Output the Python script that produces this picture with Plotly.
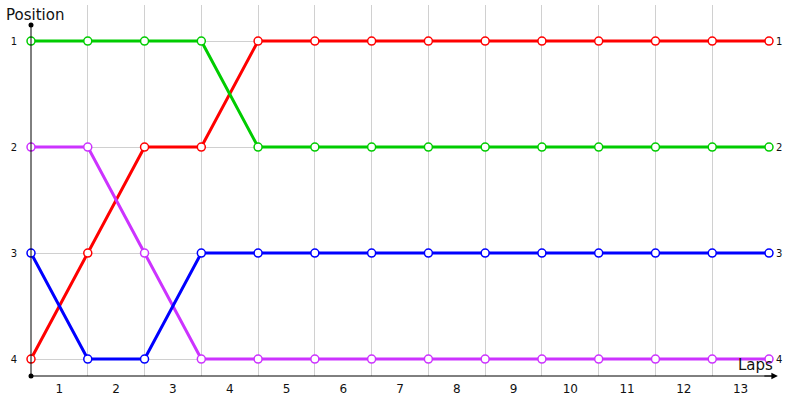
import plotly.graph_objects as go

laps = list(range(0, 14))
lap_labels = [str(i) for i in range(1, 14)]
lap_label_pos = [i + 0.5 for i in range(13)]
positions = [1, 2, 3, 4]

red = [4, 3, 2, 2, 1, 1, 1, 1, 1, 1, 1, 1, 1, 1]
green = [1, 1, 1, 1, 2, 2, 2, 2, 2, 2, 2, 2, 2, 2]
magenta = [2, 2, 3, 4, 4, 4, 4, 4, 4, 4, 4, 4, 4, 4]
blue = [3, 4, 4, 3, 3, 3, 3, 3, 3, 3, 3, 3, 3, 3]

series = [
    ("Red", red, "#ff0000"),
    ("Green", green, "#00cc00"),
    ("Magenta", magenta, "#cc33ff"),
    ("Blue", blue, "#0000ff"),
]

fig = go.Figure()
for name, vals, col in series:
    fig.add_trace(go.Scatter(
        x=laps, y=vals, name=name, mode="lines+markers",
        line=dict(color=col, width=3),
        marker=dict(symbol="circle", size=8, color="white",
                    line=dict(color=col, width=1.5)),
        cliponaxis=False,
    ))

# invisible trace so the right-hand axis gets drawn
fig.add_trace(go.Scatter(x=laps, y=red, yaxis="y2", mode="lines",
                         line=dict(width=0), hoverinfo="skip", showlegend=False))

yr = [4.16, 0.66]
fig.update_layout(
    width=800, height=400,
    margin=dict(l=31, r=31, t=5, b=24),
    plot_bgcolor="white", paper_bgcolor="white",
    showlegend=False,
    font=dict(family="DejaVu Sans", color="#111"),
    xaxis=dict(
        range=[0, 13], tickvals=lap_label_pos, ticktext=lap_labels,
        showgrid=False, zeroline=False, showline=False, ticks="",
        tickfont=dict(size=12), ticklabelstandoff=4,
        minor=dict(tickvals=laps[1:], showgrid=True, gridcolor="#d0d0d0", gridwidth=1),
    ),
    yaxis=dict(
        range=yr, tickvals=positions, showgrid=True, gridcolor="#d0d0d0",
        zeroline=False, showline=False, ticks="",
        tickfont=dict(size=10), ticklabelstandoff=13,
    ),
    yaxis2=dict(
        range=yr, tickvals=positions, overlaying="y", side="right",
        showgrid=False, zeroline=False, showline=False, ticks="",
        tickfont=dict(size=10), ticklabelstandoff=6,
    ),
    shapes=[
        dict(type="line", xref="paper", yref="paper", x0=0, x1=0, y0=0, y1=0.946,
             line=dict(color="black", width=1)),
        dict(type="line", xref="paper", yref="paper", x0=0, x1=1.005, y0=0, y1=0,
             line=dict(color="black", width=1)),
        dict(type="circle", xref="paper", yref="paper", xsizemode="pixel", ysizemode="pixel",
             xanchor=0, yanchor=0.946, x0=-2.5, x1=2.5, y0=-2.5, y1=2.5,
             fillcolor="black", line=dict(width=0)),
        dict(type="circle", xref="paper", yref="paper", xsizemode="pixel", ysizemode="pixel",
             xanchor=0, yanchor=0, x0=-2.5, x1=2.5, y0=-2.5, y1=2.5,
             fillcolor="black", line=dict(width=0)),
    ],
    annotations=[
        dict(text="", xref="paper", yref="paper", x=1.012, y=0, axref="pixel", ayref="pixel",
             ax=-15, ay=0, showarrow=True, arrowhead=2, arrowsize=1.3, arrowwidth=1,
             arrowcolor="black"),
        dict(text="Position", xref="paper", yref="paper", x=-0.037, y=0.973,
             xanchor="left", yanchor="middle", showarrow=False, font=dict(size=15, color="#111")),
        dict(text="Laps", xref="paper", yref="paper", x=1.008, y=0.03,
             xanchor="right", yanchor="middle", showarrow=False, font=dict(size=15, color="#111")),
    ],
)

fig.write_html("out.html", config={"displayModeBar": False},
               post_script="document.body.style.margin='0';")
